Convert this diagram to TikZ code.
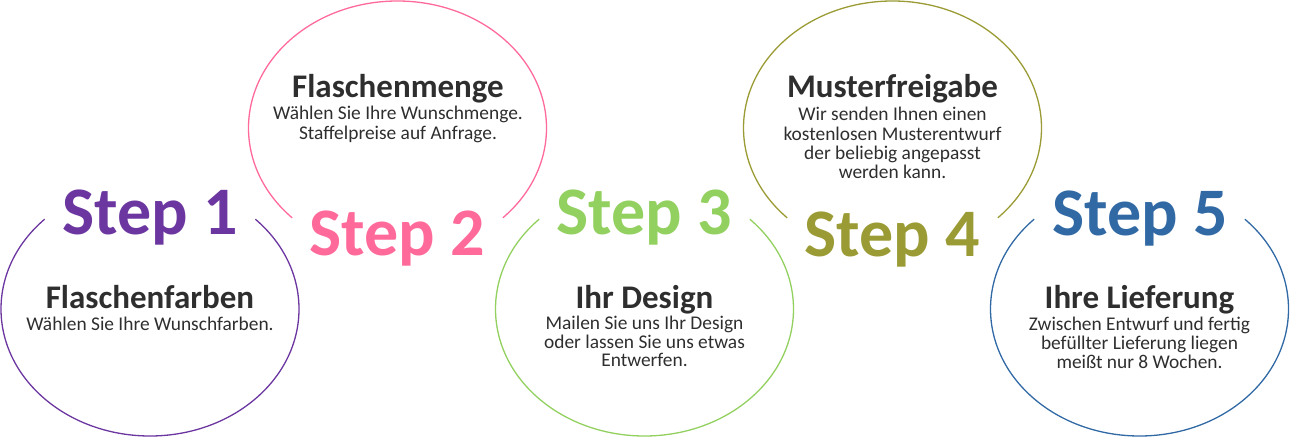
\documentclass[tikz,border=0pt]{standalone}
\usepackage{fontspec}
\setmainfont{Carlito}
\definecolor{cpurple}{HTML}{6B36A0}
\definecolor{cpink}{HTML}{FF6A9A}
\definecolor{cgreen}{HTML}{92D060}
\definecolor{colive}{HTML}{9B9B35}
\definecolor{cblue}{HTML}{3169A5}
\definecolor{ctext}{HTML}{2E2E2E}
\tikzset{
  ring/.style={line width=1.3pt},
  steplabel/.style={anchor=base, inner sep=0pt, font=\fontsize{68}{68}\selectfont\bfseries},
  titlelabel/.style={anchor=base, inner sep=0pt, text=ctext, font=\fontsize{33}{34}\selectfont\bfseries},
  sublabel/.style={anchor=base, inner sep=0pt, text=ctext, font=\fontsize{19.4}{18.7}\selectfont},
}
\newcommand{\sublines}[1]{\begin{tabular}[t]{@{}c@{}}#1\end{tabular}}
\begin{document}
\begin{tikzpicture}[x=1pt,y=1pt]
\useasboundingbox (0,0) rectangle (1290,437);
% ellipse centres
\coordinate (c1) at (150,128);
\coordinate (c2) at (397.5,309);
\coordinate (c3) at (644.5,128);
\coordinate (c4) at (892.5,309);
\coordinate (c5) at (1139.5,128);
% rings (bottom ones open at the top, top ones open at the bottom)
\draw[ring, cpurple] (c1) ++(135:149pt and 127pt) arc[start angle=135, end angle=405, x radius=149pt, y radius=127pt];
\draw[ring, cpink]   (c2) ++(-45:149pt and 127pt) arc[start angle=-45, end angle=225, x radius=149pt, y radius=127pt];
\draw[ring, cgreen]  (c3) ++(135:149pt and 127pt) arc[start angle=135, end angle=405, x radius=149pt, y radius=127pt];
\draw[ring, colive]  (c4) ++(-45:149pt and 127pt) arc[start angle=-45, end angle=225, x radius=149pt, y radius=127pt];
\draw[ring, cblue]   (c5) ++(135:149pt and 127pt) arc[start angle=135, end angle=405, x radius=149pt, y radius=127pt];
% step labels
\node[steplabel, text=cpurple] (s1) at (150,203) {Step 1};
\node[steplabel, text=cpink]   (s2) at (397,181.5) {Step 2};
\node[steplabel, text=cgreen]  (s3) at (644.5,203) {Step 3};
\node[steplabel, text=colive]  (s4) at (892.5,181) {Step 4};
\node[steplabel, text=cblue]   (s5) at (1140,202) {Step 5};
% titles
\node[titlelabel] (t1) at (150,129) {Flaschenfarben};
\node[titlelabel] (t2) at (398,339) {Flaschenmenge};
\node[titlelabel] (t3) at (644.5,129) {Ihr Design};
\node[titlelabel] (t4) at (892.5,339) {Musterfreigabe};
\node[titlelabel] (t5) at (1139.5,129) {Ihre Lieferung};
% descriptions
\node[sublabel] (d1) at (150,107) {\sublines{Wählen Sie Ihre Wunschfarben.}};
\node[sublabel] (d2) at (398,317) {\sublines{Wählen Sie Ihre Wunschmenge.\\Staffelpreise auf Anfrage.}};
\node[sublabel] (d3) at (644.5,108) {\sublines{Mailen Sie uns Ihr Design\\oder lassen Sie uns etwas\\Entwerfen.}};
\node[sublabel] (d4) at (892.5,316) {\sublines{Wir senden Ihnen einen\\kostenlosen Musterentwurf\\der beliebig angepasst\\werden kann.}};
\node[sublabel] (d5) at (1139.5,107) {\sublines{Zwischen Entwurf und fertig\\befüllter Lieferung liegen\\meißt nur 8 Wochen.}};
\end{tikzpicture}
\end{document}
